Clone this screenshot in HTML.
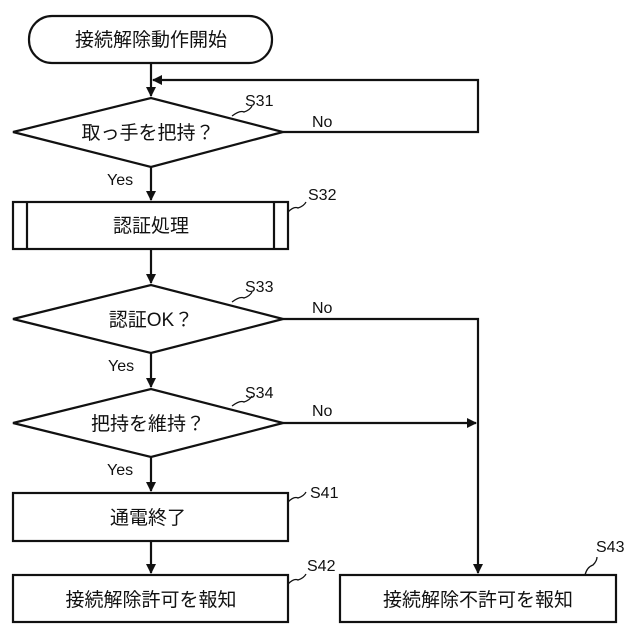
<!DOCTYPE html>
<html><head><meta charset="utf-8"><style>body{margin:0;background:#fff}svg{display:block}</style></head><body>
<svg width="640" height="640" viewBox="0 0 640 640" xmlns="http://www.w3.org/2000/svg" font-family="'Liberation Sans','Noto Sans CJK JP',sans-serif">
<defs><marker id="a" markerWidth="10" markerHeight="10" refX="9" refY="5" orient="auto" markerUnits="userSpaceOnUse"><path d="M0,0 L10,5 L0,10 z" fill="#111"/></marker></defs>
<g stroke="#111" stroke-width="2.2" fill="none">
<rect x="29" y="16" width="243" height="47" rx="23"/>
<line x1="151" y1="63" x2="151" y2="96" marker-end="url(#a)"/>
<polyline points="283,132 478,132 478,80 153,80" marker-end="url(#a)"/>
<polygon points="13,132 151,98 283,132 151,167"/>
<line x1="151" y1="167" x2="151" y2="200" marker-end="url(#a)"/>
<rect x="13" y="202" width="275" height="47"/>
<line x1="27" y1="202" x2="27" y2="249"/><line x1="274" y1="202" x2="274" y2="249"/>
<line x1="151" y1="249" x2="151" y2="283" marker-end="url(#a)"/>
<polygon points="13,319 151,285 283,319 151,353"/>
<polyline points="283,319 478,319 478,573" marker-end="url(#a)"/>
<line x1="151" y1="353" x2="151" y2="387" marker-end="url(#a)"/>
<polygon points="13,423 151,389 283,423 151,457"/>
<line x1="283" y1="423" x2="476" y2="423" marker-end="url(#a)"/>
<line x1="151" y1="457" x2="151" y2="491" marker-end="url(#a)"/>
<rect x="13" y="493" width="275" height="48"/>
<line x1="151" y1="541" x2="151" y2="573" marker-end="url(#a)"/>
<rect x="13" y="575" width="275" height="47"/>
<rect x="340" y="575" width="276" height="47"/>
<g stroke-width="1.3">
<path d="M232,116 q8,-6 12,-4 q6,-2 8,-6"/>
<path d="M288,212 q6,-6 10,-4 q6,-2 8,-6"/>
<path d="M232,302 q8,-6 12,-4 q6,-2 8,-6"/>
<path d="M232,406 q8,-6 12,-4 q6,-2 8,-6"/>
<path d="M288,502 q6,-6 10,-4 q6,-2 8,-6"/>
<path d="M288,584 q6,-6 10,-4 q6,-2 8,-6"/>
<path d="M585,575 q2,-8 8,-10 q4,-4 4,-8"/>
</g>
</g>
<g fill="#111" font-size="19" text-anchor="middle">
<text x="151" y="46">接続解除動作開始</text>
<text x="148" y="139">取っ手を把持？</text>
<text x="151" y="232">認証処理</text>
<text x="151" y="326">認証OK？</text>
<text x="148" y="430">把持を維持？</text>
<text x="148" y="524">通電終了</text>
<text x="151" y="606">接続解除許可を報知</text>
<text x="478" y="606">接続解除不許可を報知</text>
</g>
<g fill="#111" font-size="16">
<text x="245" y="106">S31</text>
<text x="308" y="200">S32</text>
<text x="245" y="292">S33</text>
<text x="245" y="398">S34</text>
<text x="310" y="498">S41</text>
<text x="307" y="571">S42</text>
<text x="596" y="552">S43</text>
<text x="312" y="127">No</text>
<text x="312" y="313">No</text>
<text x="312" y="416">No</text>
<text x="107" y="185">Yes</text>
<text x="108" y="371">Yes</text>
<text x="107" y="475">Yes</text>
</g>
</svg>
</body></html>
